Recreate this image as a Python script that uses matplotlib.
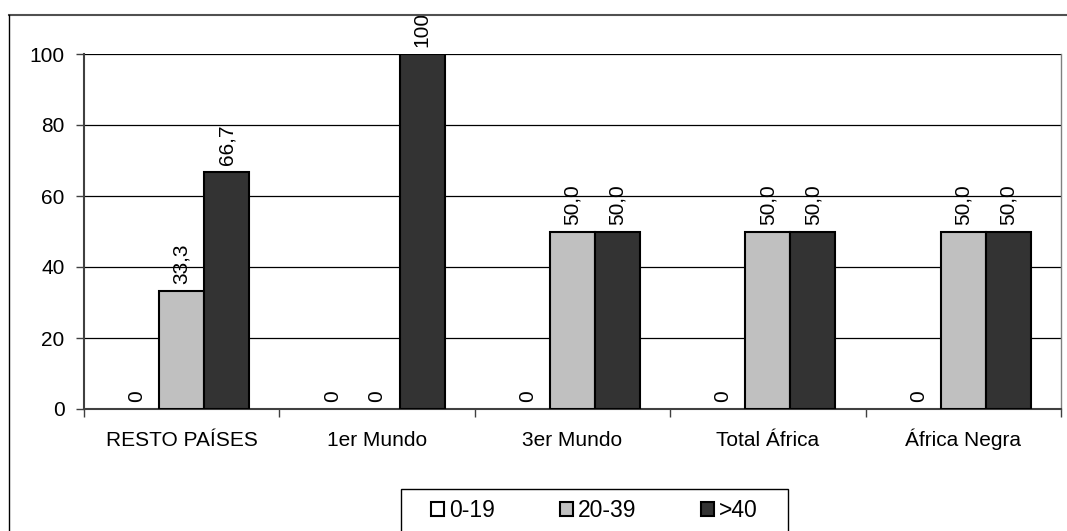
import numpy as np
import matplotlib
matplotlib.use("Agg")
import matplotlib.pyplot as plt
from matplotlib.patches import Rectangle, Patch
from matplotlib.lines import Line2D
from matplotlib.transforms import blended_transform_factory, offset_copy

plt.rcParams["font.family"] = ["Liberation Sans", "DejaVu Sans"]

categories = ["RESTO PAÍSES", "1er Mundo", "3er Mundo", "Total África", "África Negra"]
series_names = ["0-19", "20-39", ">40"]
values_0_19 = [0, 0, 0, 0, 0]
values_20_39 = [33.3, 0, 50.0, 50.0, 50.0]
values_40 = [66.7, 100, 50.0, 50.0, 50.0]
colors = ["#FFFFFF", "#C0C0C0", "#333333"]

FS = 15
LEG_FS = 16.5


def fmt(v):
    if v == 0:
        return "0"
    if v == 100:
        return "100"
    return f"{v:.1f}".replace(".", ",")


fig = plt.figure(figsize=(10.67, 5.31), dpi=100)
ax = fig.add_axes([84 / 1067, 1 - 409 / 531, (1061 - 84) / 1067, (409 - 54) / 531])

x = np.arange(len(categories))
w = 0.23
for i, (vals, col) in enumerate(zip([values_0_19, values_20_39, values_40], colors)):
    pos = x + (i - 1) * w
    bars = ax.bar(pos, vals, width=w, color=col, edgecolor="black", linewidth=1.5,
                  zorder=3)
    for b, xp, v in zip(bars, pos, vals):
        if v == 0:
            b.set_linewidth(0)
        ax.annotate(fmt(v), (xp, v), xytext=(0, 5), textcoords="offset points",
                    rotation=90, ha="center", va="bottom", fontsize=FS,
                    annotation_clip=False)

ax.set_xlim(-0.5, len(categories) - 0.5)
ax.set_ylim(0, 100)
ax.set_yticks(np.arange(0, 101, 20))
ax.yaxis.grid(True, color="black", linewidth=0.9, zorder=0)
ax.set_axisbelow(True)

# ticks at category boundaries, labels at centres on a common baseline
ax.set_xticks(np.arange(-0.5, len(categories), 1.0))
ax.set_xticklabels([])
ax.tick_params(axis="x", which="major", length=6, width=1, color="#404040", direction="out")
ax.tick_params(axis="y", length=6, width=1, color="#404040", labelsize=FS, pad=8)
trans = offset_copy(blended_transform_factory(ax.transData, ax.transAxes),
                    fig=fig, x=0, y=-37 * 72 / 100, units="points")
for xi, name in zip(x, categories):
    ax.text(xi, 0, name, transform=trans, ha="center", va="baseline", fontsize=FS)

ax.spines["top"].set_visible(False)
ax.spines["left"].set_color("#404040")
ax.spines["left"].set_linewidth(1.5)
ax.spines["bottom"].set_color("#404040")
ax.spines["bottom"].set_linewidth(1.5)
ax.spines["right"].set_color("#808080")
ax.spines["right"].set_linewidth(1)

handles = [Patch(facecolor=c, edgecolor="black", linewidth=1.5) for c in colors]
leg = fig.legend(handles=handles, labels=series_names, loc="upper left",
                 bbox_to_anchor=(431 / 1067, 1 - 499 / 531), ncol=3, frameon=False,
                 fontsize=LEG_FS, handlelength=0.57, handleheight=0.57,
                 handletextpad=0.2, columnspacing=2.85, borderpad=0, borderaxespad=0)

# legend box drawn by hand (Excel style: wide side padding)
fig.canvas.draw()
bb = leg.get_window_extent()
pad_x, pad_y = 30, 10
fig.patches.append(Rectangle((bb.x0 - pad_x, bb.y0 - pad_y), bb.width + 2 * pad_x,
                             bb.height + 2 * pad_y, transform=None, fill=False,
                             edgecolor="black", linewidth=1))

# outer chart border (cropped on right and bottom)
fig.lines.append(Line2D([9 / 1067, 1.0], [1 - 15 / 531, 1 - 15 / 531],
                        transform=fig.transFigure, color="#505050", linewidth=1.5))
fig.lines.append(Line2D([9 / 1067, 9 / 1067], [0, 1 - 15 / 531],
                        transform=fig.transFigure, color="black", linewidth=1))

fig.savefig("out.png", dpi=100)
